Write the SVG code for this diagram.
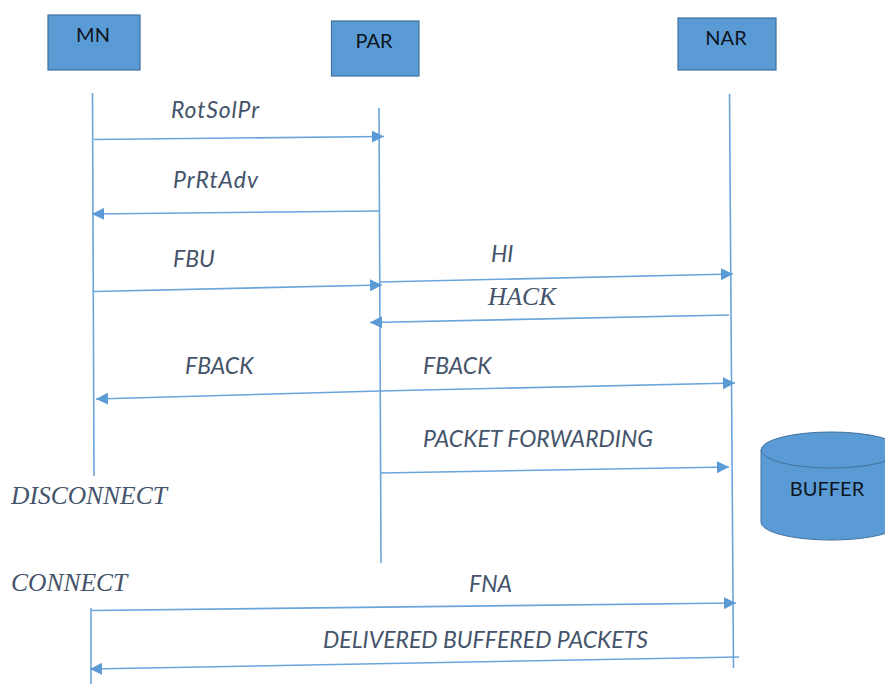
<svg xmlns="http://www.w3.org/2000/svg" width="885" height="684" viewBox="0 0 885 684">
<style>
.box{fill:#5b9bd5;stroke:#41719c;stroke-width:1.2}
.nl{font-family:"Lato","Liberation Sans",sans-serif;font-size:20px;fill:#0d1520;text-anchor:middle}
.m{font-family:"Lato","Liberation Sans",sans-serif;font-size:23px;font-style:italic;fill:#44546a}
.s{font-family:"Liberation Serif",serif;font-size:25.5px;font-style:italic;fill:#44546a}
.c line,.l line{stroke:#6ba5da;stroke-width:1.6}
</style>
<defs>
<marker id="a" markerUnits="userSpaceOnUse" markerWidth="12" markerHeight="12" refX="12" refY="6" orient="auto"><path d="M0 0L12 6L0 12Z" fill="#5b9bd5"/></marker>
</defs>
<rect width="885" height="684" fill="#fff"/>
<g id="node-mn"><rect class="box" x="48" y="15" width="92" height="55"/><text class="nl" x="93" y="42">MN</text></g>
<g id="node-par"><rect class="box" x="331.5" y="21" width="87.5" height="55"/><text class="nl" x="374" y="48">PAR</text></g>
<g id="node-nar"><rect class="box" x="678" y="18" width="98" height="52"/><text class="nl" x="726" y="45">NAR</text></g>
<g id="node-buffer">
<path d="M761 450V522C761 532 792 540 831 540S901 532 901 522V450Z" fill="#5b9bd5" stroke="#41719c"/>
<ellipse cx="831" cy="450" rx="70" ry="18" fill="#5b9bd5" stroke="#41719c"/>
<text class="nl" x="827" y="496">BUFFER</text>
</g>
<g id="lifelines" class="l">
<line x1="92.5" y1="93" x2="94" y2="476"/>
<line x1="379" y1="108" x2="381" y2="563"/>
<line x1="729.5" y1="94" x2="733.5" y2="668"/>
<line x1="91" y1="608" x2="91" y2="684"/>
</g>
<g id="connectors" class="c">
<line x1="94" y1="139.5" x2="384" y2="136.5" marker-end="url(#a)"/>
<line x1="380" y1="211" x2="92" y2="214" marker-end="url(#a)"/>
<line x1="94" y1="291.5" x2="382" y2="285" marker-end="url(#a)"/>
<line x1="380" y1="282" x2="733" y2="274" marker-end="url(#a)"/>
<line x1="729" y1="315" x2="370" y2="322.5" marker-end="url(#a)"/>
<line x1="380" y1="391" x2="96" y2="399" marker-end="url(#a)"/>
<line x1="380" y1="391" x2="735" y2="383" marker-end="url(#a)"/>
<line x1="381" y1="473" x2="729" y2="467" marker-end="url(#a)"/>
<line x1="91" y1="610.5" x2="736" y2="603" marker-end="url(#a)"/>
<line x1="739" y1="657" x2="90" y2="669" marker-end="url(#a)"/>
</g>
<g id="labels">
<text class="m" x="171" y="118" textLength="88">RotSolPr</text>
<text class="m" x="173" y="188" textLength="85">PrRtAdv</text>
<text class="m" x="173" y="267">FBU</text>
<text class="m" x="491" y="262">HI</text>
<text class="s" x="488" y="305">HACK</text>
<text class="m" x="185" y="374">FBACK</text>
<text class="m" x="423" y="374">FBACK</text>
<text class="m" x="423" y="447">PACKET FORWARDING</text>
<text class="s" x="11" y="504">DISCONNECT</text>
<text class="s" x="11" y="591">CONNECT</text>
<text class="m" x="469" y="592">FNA</text>
<text class="m" x="323" y="648">DELIVERED BUFFERED PACKETS</text>
</g>
</svg>
